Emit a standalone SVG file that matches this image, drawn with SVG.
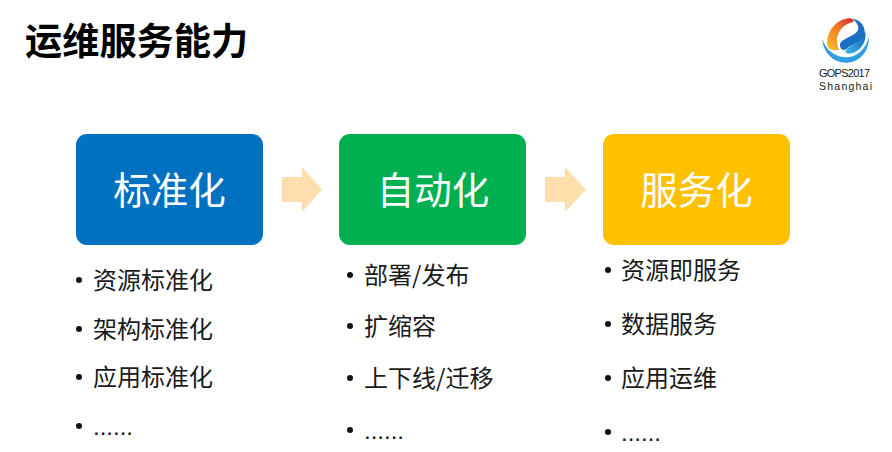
<svg xmlns="http://www.w3.org/2000/svg" width="892" height="452" viewBox="0 0 892 452">
<style>
text{font-family:"Noto Sans CJK SC","Liberation Sans",sans-serif}
.title{font-size:37.200px;font-weight:700;fill:#000}
.box{font-size:37.500px;fill:#fff;text-anchor:middle}
.item{font-size:24px;fill:#1a1a1a}
.more{font-family:"Liberation Sans",sans-serif;font-size:24px;fill:#1a1a1a}
.dot{fill:#111}
.arrow{fill:#FFDEAD}
.latin{font-family:"Liberation Sans",sans-serif;fill:#222}
</style>
<defs>
<linearGradient id="flame" x1="0.2" y1="1" x2="0.8" y2="0">
<stop offset="0" stop-color="#f7b52c"/><stop offset="0.6" stop-color="#ef7d22"/><stop offset="1" stop-color="#d8342a"/>
</linearGradient>
<linearGradient id="wave" x1="0" y1="1" x2="1" y2="0">
<stop offset="0" stop-color="#38b4ee"/><stop offset="1" stop-color="#1464b4"/>
</linearGradient>
</defs>
<rect width="892" height="452" fill="#fff"/>
<text class="title" x="25" y="55">运维服务能力</text>
<g id="logo">
<g transform="translate(790 0) scale(.3333)">
<!-- ring under the swirl -->
<path d="M97 118C100 165 138 190 170 188C206 187 238 158 237 110C228 148 200 172 168 172C135 172 108 150 97 118Z" fill="#2f9fe0"/>
<!-- flame -->
<path d="M113 140C106 100 135 58 178 55C186 55 192 60 190 66C165 70 142 92 141 120C141 132 144 142 148 150C130 150 118 150 113 140Z" fill="url(#flame)"/>
<!-- blue swirl -->
<path d="M150 135C150 115 205 108 205 85C205 72 195 62 186 56C210 58 226 78 224 100C220 130 185 132 172 145C162 155 150 150 150 135Z" fill="#1a6fc2"/>
<path d="M166 156C172 134 214 134 225 92C232 120 216 148 190 158C180 162 170 162 166 156Z" fill="url(#wave)"/>
</g>
<text class="latin" x="819" y="77" font-size="11" textLength="51">GOPS2017</text>
<text class="latin" x="819" y="90" font-size="10.500" textLength="53">Shanghai</text>
</g>
<g id="node-standard">
<rect x="76" y="134" width="187" height="111" rx="11" fill="#0070C0"/>
<text class="box" x="169.500" y="204">标准化</text>
</g>
<g id="node-auto">
<rect x="339" y="134" width="187" height="111" rx="11" fill="#00B050"/>
<text class="box" x="433" y="204">自动化</text>
</g>
<g id="node-service">
<rect x="603" y="134" width="187" height="111" rx="11" fill="#FFC000"/>
<text class="box" x="696.500" y="204">服务化</text>
</g>
<g id="connectors">
<path class="arrow" d="M282 177H302V167L322 189.500L302 212V202H282Z"/>
<path class="arrow" d="M545 177H565V167L586 189.500L565 212V202H545Z"/>
</g>
<g id="list-standard">
<circle class="dot" cx="79" cy="280" r="3"/><text class="item" x="93" y="289">资源标准化</text>
<circle class="dot" cx="79" cy="329" r="3"/><text class="item" x="93" y="338">架构标准化</text>
<circle class="dot" cx="79" cy="377" r="3"/><text class="item" x="93" y="386">应用标准化</text>
<circle class="dot" cx="79" cy="426" r="3"/><text class="more" x="93" y="435">......</text>
</g>
<g id="list-auto">
<circle class="dot" cx="350" cy="275" r="3"/><text class="item" x="364" y="284">部署/发布</text>
<circle class="dot" cx="350" cy="326" r="3"/><text class="item" x="364" y="335">扩缩容</text>
<circle class="dot" cx="350" cy="378" r="3"/><text class="item" x="364" y="387">上下线/迁移</text>
<circle class="dot" cx="350" cy="430" r="3"/><text class="more" x="364" y="439">......</text>
</g>
<g id="list-service">
<circle class="dot" cx="608" cy="270" r="3"/><text class="item" x="621" y="279">资源即服务</text>
<circle class="dot" cx="608" cy="324" r="3"/><text class="item" x="621" y="333">数据服务</text>
<circle class="dot" cx="608" cy="378" r="3"/><text class="item" x="621" y="387">应用运维</text>
<circle class="dot" cx="608" cy="432" r="3"/><text class="more" x="621" y="441">......</text>
</g>
</svg>
